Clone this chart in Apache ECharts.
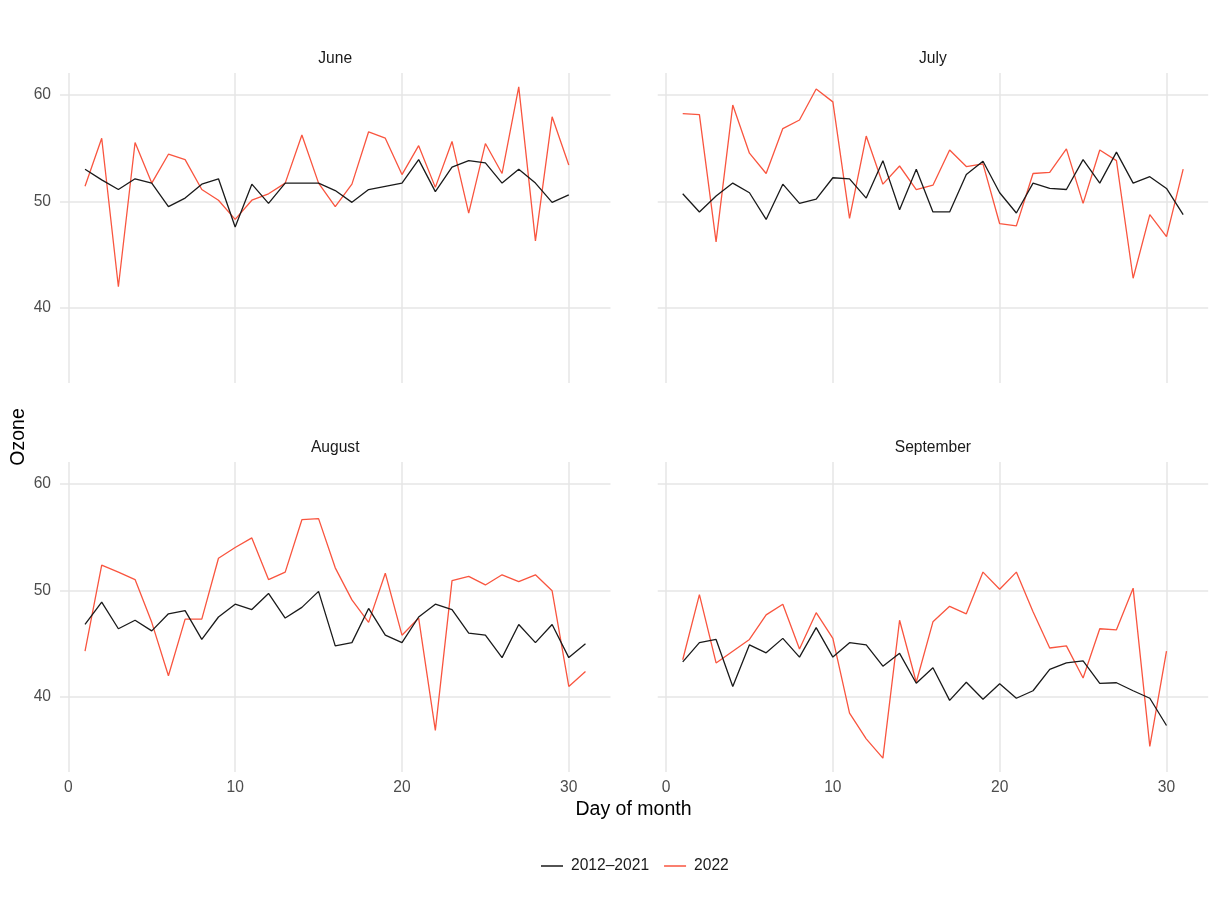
<!DOCTYPE html>
<html>
<head>
<meta charset="utf-8">
<script src="https://cdn.jsdelivr.net/npm/echarts@6/dist/echarts.min.js"></script>
<style>
html,body{margin:0;padding:0;background:#fff;}
#chart{width:1218px;height:898px;}
</style>
</head>
<body>
<div id="chart"></div>
<script>
const days = [1,2,3,4,5,6,7,8,9,10,11,12,13,14,15,16,17,18,19,20,21,22,23,24,25,26,27,28,29,30,31];
const months = ['June','July','August','September'];
const seriesNames = ['2012\u20132021','2022'];
const xTicks = [0,10,20,30];
const yTicks = [40,50,60];

const juneHist = [53.0,52.0,51.1,52.1,51.7,49.5,50.3,51.6,52.1,47.6,51.6,49.8,51.7,51.7,51.7,51.0,49.9,51.1,51.4,51.7,53.9,50.9,53.2,53.8,53.6,51.7,53.0,51.7,49.9,50.6];
const june2022 = [51.4,55.9,42.0,55.5,51.7,54.4,53.9,51.1,50.1,48.3,50.1,50.7,51.7,56.2,51.7,49.5,51.6,56.5,55.9,52.5,55.2,51.3,55.6,48.9,55.4,52.6,60.7,46.3,57.9,53.4];
const julyHist = [50.7,49.0,50.5,51.7,50.8,48.3,51.6,49.8,50.2,52.2,52.1,50.3,53.8,49.2,53.0,49.0,49.0,52.5,53.75,50.8,48.9,51.7,51.2,51.1,53.9,51.7,54.6,51.7,52.3,51.2,48.75];
const july2022 = [58.2,58.1,46.2,59.0,54.5,52.6,56.8,57.6,60.5,59.3,48.4,56.1,51.6,53.3,51.1,51.5,54.8,53.25,53.5,47.9,47.7,52.6,52.7,54.9,49.8,54.8,53.8,42.8,48.75,46.7,53.0];
const augHist = [46.8,48.9,46.4,47.2,46.2,47.8,48.1,45.4,47.5,48.7,48.2,49.7,47.4,48.4,49.9,44.8,45.1,48.3,45.8,45.1,47.5,48.7,48.2,46.0,45.8,43.7,46.8,45.1,46.8,43.7,45.0];
const aug2022 = [44.3,52.35,51.7,51.0,47.0,42.0,47.3,47.3,53.0,54.0,54.9,51.0,51.7,56.6,56.7,52.1,49.1,47.0,51.6,45.8,47.4,36.9,50.9,51.3,50.5,51.45,50.8,51.45,49.95,41.0,42.4];
const sepHist = [43.3,45.1,45.4,41.0,44.9,44.15,45.5,43.75,46.5,43.75,45.1,44.9,42.9,44.1,41.3,42.75,39.7,41.4,39.8,41.25,39.9,40.6,42.6,43.2,43.4,41.3,41.35,40.6,39.9,37.35];
const sep2022 = [43.5,49.6,43.2,44.3,45.4,47.7,48.7,44.5,47.9,45.5,38.5,36.1,34.3,47.2,41.4,47.05,48.5,47.8,51.7,50.1,51.7,48.0,44.6,44.8,41.8,46.4,46.3,50.2,35.4,44.3];

const histData = [juneHist, julyHist, augHist, sepHist];
const newData = [june2022, july2022, aug2022, sep2022];

const FONT = 'Liberation Sans, Arial, Helvetica, sans-serif';
const BLACK = '#1a1a1a';
const RED = '#f9553f';
const GRID = '#e6e6e6';

const panels = [
  {left: 60, top: 73},
  {left: 657.7, top: 73},
  {left: 60, top: 462},
  {left: 657.7, top: 462}
];
const PW = 550.5, PH = 310;

const grids = panels.map(p => ({left: p.left, top: p.top, width: PW, height: PH, containLabel: false}));
const xAxes = panels.map((p, i) => ({
  type: 'value', gridIndex: i, min: -0.5, max: 32.5,
  axisLine: {show: false},
  axisTick: {show: false, customValues: xTicks},
  axisLabel: {show: i >= 2, customValues: xTicks, color: '#4d4d4d', fontSize: 15.6, fontFamily: FONT, margin: 8},
  splitLine: {show: true, lineStyle: {color: GRID, width: 1.5}}
}));
const yAxes = panels.map((p, i) => ({
  type: 'value', gridIndex: i, min: 33, max: 62,
  axisLine: {show: false},
  axisTick: {show: false, customValues: yTicks},
  axisLabel: {show: i % 2 === 0, customValues: yTicks, color: '#4d4d4d', fontSize: 15.6, fontFamily: FONT, margin: 9},
  splitLine: {show: true, lineStyle: {color: GRID, width: 1.5}}
}));

const series = [];
for (let i = 0; i < 4; i++) {
  series.push({
    name: seriesNames[0], type: 'line', xAxisIndex: i, yAxisIndex: i,
    data: histData[i].map((v, k) => [days[k], v]),
    showSymbol: false, symbol: 'none', silent: true,
    lineStyle: {color: BLACK, width: 1.3}, itemStyle: {color: BLACK}, z: 3
  });
  series.push({
    name: seriesNames[1], type: 'line', xAxisIndex: i, yAxisIndex: i,
    data: newData[i].map((v, k) => [days[k], v]),
    showSymbol: false, symbol: 'none', silent: true,
    lineStyle: {color: RED, width: 1.3}, itemStyle: {color: RED}, z: 2
  });
}

const stripPos = [[335.2, 59], [932.9, 59], [335.2, 448], [932.9, 448]];
const graphics = months.map((m, i) => ({
  type: 'text', x: stripPos[i][0], y: stripPos[i][1],
  style: {text: m, fill: BLACK, font: '15.6px ' + FONT, textAlign: 'center', textVerticalAlign: 'middle'}
}));
graphics.push({
  type: 'text', x: 633.5, y: 810,
  style: {text: 'Day of month', fill: '#000', font: '19.5px ' + FONT, textAlign: 'center', textVerticalAlign: 'middle'}
});
graphics.push({
  type: 'text', x: 19, y: 437, rotation: Math.PI / 2,
  style: {text: 'Ozone', fill: '#000', font: '19.5px ' + FONT, textAlign: 'center', textVerticalAlign: 'middle'}
});

const chart = echarts.init(document.getElementById('chart'), null, {renderer: 'canvas'});
chart.setOption({
  animation: false,
  backgroundColor: '#fff',
  grid: grids,
  xAxis: xAxes,
  yAxis: yAxes,
  legend: {
    data: [
      {name: seriesNames[0], icon: 'rect', itemStyle: {color: BLACK}},
      {name: seriesNames[1], icon: 'rect', itemStyle: {color: RED}}
    ],
    left: 536, top: 853, itemWidth: 22, itemHeight: 1.5, itemGap: 15,
    textStyle: {fontSize: 15.6, fontFamily: FONT, color: BLACK, padding: [0, 0, 0, 3]},
    selectedMode: false
  },
  graphic: graphics,
  series: series
});
</script>
</body>
</html>
